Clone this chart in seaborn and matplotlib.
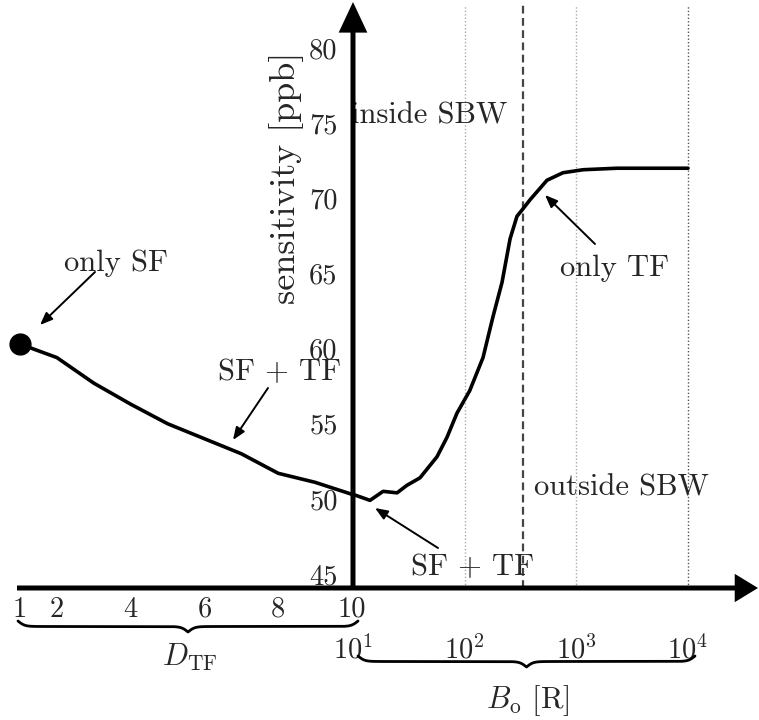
import numpy as np
import matplotlib
matplotlib.use('Agg')
import matplotlib.pyplot as plt
import seaborn as sns
from matplotlib.patches import FancyArrowPatch
from matplotlib.lines import Line2D
from matplotlib.ticker import NullLocator

# ---------------- data ----------------
d_tf = [1, 2, 3, 4, 5, 6, 7, 8, 9, 10]
sens_left = [60.3, 59.4, 57.7, 56.3, 55.0, 54.0, 53.0, 51.7, 51.1, 50.3]

b_o = [10, 14.2, 18.6, 24.8, 30.4, 39.8, 56.5, 69.5, 85.3, 111, 146, 179,
       216, 255, 294, 333, 385, 546, 759, 1150, 2310, 10000]
sens_right = [50.3, 49.9, 50.5, 50.4, 50.9, 51.4, 52.8, 54.1, 55.7, 57.2, 59.4,
              62.1, 64.4, 67.3, 68.8, 69.3, 69.9, 71.2, 71.7, 71.9, 72.0, 72.0]

d_ticks = [1, 2, 4, 6, 8, 10]
d_ticklabels = ['1', '2', '4', '6', '8', '10']
b_ticks = [10, 100, 1000, 10000]
b_ticklabels = [r'$10^{1}$', r'$10^{2}$', r'$10^{3}$', r'$10^{4}$']
s_ticks = [45, 50, 55, 60, 65, 70, 75, 80]
s_ticklabels = ['45', '50', '55', '60', '65', '70', '75', '80']
b_grid = [100, 1000, 10000]
b_sbw = 330

# ---------------- style ----------------
sns.set_style('white')
plt.rcParams['font.family'] = ['cmr10', 'DejaVu Serif']
plt.rcParams['mathtext.fontset'] = 'cm'
plt.rcParams['axes.formatter.use_mathtext'] = True

W, H = 759, 720
fig = plt.figure(figsize=(W / 100, H / 100), dpi=100)


def fx(px):
    return px / W


def fy(py):
    return 1 - py / H


# geometry (pixels)
y_bot_px, y_top_px = 588, 3
ppu = (574 - 48) / 35.0
ylim = (45 - (y_bot_px - 574) / ppu, 80 + (48 - y_top_px) / ppu)

xl0, xmid, xr1 = 17, 353, 757
axL = fig.add_axes([fx(xl0), fy(y_bot_px), (xmid - xl0) / W, (y_bot_px - y_top_px) / H])
axR = fig.add_axes([fx(xmid), fy(y_bot_px), (xr1 - xmid) / W, (y_bot_px - y_top_px) / H])

ppd = (352 - 20) / 9.0
axL.set_xlim(1 - (20 - xl0) / ppd, 10 + (xmid - 352) / ppd)
dec = (688 - 353) / 3.0
axR.set_xscale('log')
axR.set_xlim(10, 10 ** (1 + (xr1 - xmid) / dec))

for ax in (axL, axR):
    ax.set_facecolor('none')
    ax.set_ylim(*ylim)
    for s in ax.spines.values():
        s.set_visible(False)
    ax.grid(False)

# grid lines on the right part
for b in b_grid:
    axR.axvline(b, ymin=0, ymax=0.997, color='#555555' if b == 10000 else '#aaaaaa',
                lw=1.0, ls=(0, (1, 1.5)), zorder=1)
axR.axvline(b_sbw, ymin=0, ymax=0.997, color='#444444', lw=1.6, ls=(0, (3.5, 2)), zorder=1)

# curves
sns.lineplot(x=d_tf, y=sens_left, ax=axL, color='black', lw=2.6, zorder=3)
axL.plot(d_tf[0], sens_left[0], 'o', ms=15, color='black', clip_on=False, zorder=4)
sns.lineplot(x=b_o, y=sens_right, ax=axR, color='black', lw=2.6, zorder=3)

# ticks
axL.set_xticks(d_ticks)
axL.set_xticklabels(d_ticklabels)
axL.set_yticks([])
axL.tick_params(axis='x', length=0, labelsize=20.5, pad=6)
axL.set_xlabel('')
axL.set_ylabel('')

axR.set_xticks(b_ticks)
axR.set_xticklabels(b_ticklabels)
axR.xaxis.set_minor_locator(NullLocator())
axR.tick_params(axis='x', length=0, labelsize=20.5, pad=34)
axR.set_yticks(s_ticks)
axR.set_yticklabels(s_ticklabels)
axR.tick_params(axis='y', length=0, labelsize=20.5, pad=11, left=False, labelleft=True)
axR.set_xlabel('')
axR.set_ylabel('sensitivity [ppb]', fontsize=26, va='center', ha='center')
axR.yaxis.set_label_coords((287 - xmid) / (xr1 - xmid), (y_bot_px - 178) / (y_bot_px - y_top_px))

# axis arrows
fig.add_artist(FancyArrowPatch((fx(17), fy(588)), (fx(758), fy(588)), transform=fig.transFigure,
                               arrowstyle='-|>,head_length=1.15,head_width=0.7', mutation_scale=10,
                               lw=3.6, color='black', shrinkA=0, shrinkB=0, zorder=5,
                               capstyle='butt', joinstyle='miter'))
fig.add_artist(FancyArrowPatch((fx(353), fy(590)), (fx(353), fy(2)), transform=fig.transFigure,
                               arrowstyle='-|>,head_length=1.6,head_width=0.75', mutation_scale=10,
                               lw=3.6, color='black', shrinkA=0, shrinkB=0, zorder=5,
                               capstyle='butt', joinstyle='miter'))


# braces
def brace(x0, x1, ytop, depth, beta=0.3):
    half = (x1 - x0) / 2.0
    t = np.linspace(0, half, 300)
    y = 1 / (1 + np.exp(-beta * (t - t[0]))) + 1 / (1 + np.exp(-beta * (t - t[-1]))) - 0.5
    xs = np.concatenate([x0 + t, x1 - t[::-1]])
    ys = np.concatenate([y, y[::-1]])
    py = ytop + depth * ys
    fig.add_artist(Line2D(xs / W, 1 - py / H, color='black', lw=2.0, transform=fig.transFigure))


brace(18, 358, 621, 11)
brace(358, 695, 656, 11)

# texts
fs = 22
fig.text(fx(116), fy(271), 'only SF', fontsize=fs, ha='center', va='baseline')
fig.text(fx(280), fy(380), 'SF + TF', fontsize=fs, ha='center', va='baseline')
fig.text(fx(351), fy(123), 'inside SBW', fontsize=fs, ha='left', va='baseline', zorder=1)
fig.text(fx(615), fy(276), 'only TF', fontsize=fs, ha='center', va='baseline')
fig.text(fx(621), fy(495), 'outside SBW', fontsize=fs, ha='center', va='baseline')
fig.text(fx(473), fy(575), 'SF + TF', fontsize=fs, ha='center', va='baseline')
fig.text(fx(190), fy(666), r'$D_{\rm TF}$', fontsize=fs, ha='center', va='baseline')
fig.text(fx(528), fy(708), r'$B_{\rm o}$ [R]', fontsize=fs, ha='center', va='baseline')


def arrow(p0, p1):
    fig.add_artist(FancyArrowPatch((fx(p0[0]), fy(p0[1])), (fx(p1[0]), fy(p1[1])),
                                   transform=fig.transFigure,
                                   arrowstyle='-|>,head_length=0.75,head_width=0.3',
                                   mutation_scale=10, lw=1.4, color='black',
                                   shrinkA=0, shrinkB=0, zorder=5))


arrow((95, 272), (40, 325))
arrow((268, 388), (233, 440))
arrow((595, 244), (545, 195))
arrow((438, 548), (375, 508))

fig.savefig('out.png', dpi=100)
